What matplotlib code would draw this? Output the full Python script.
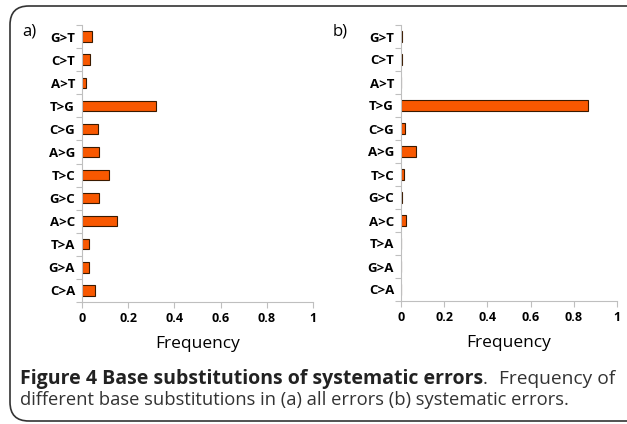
import matplotlib.pyplot as plt
import numpy as np
from matplotlib.patches import FancyBboxPatch

# substitution categories, bottom to top
subs = ["C>A", "G>A", "T>A", "A>C", "G>C", "T>C", "A>G", "C>G", "T>G", "A>T", "C>T", "G>T"]
freq_all = [0.058, 0.032, 0.029, 0.153, 0.074, 0.117, 0.072, 0.071, 0.320, 0.019, 0.036, 0.043]
freq_sys = [0.002, 0.002, 0.0, 0.023, 0.004, 0.014, 0.069, 0.017, 0.864, 0.002, 0.003, 0.003]
xticks = [0, 0.2, 0.4, 0.6, 0.8, 1]
xticklabels = ["0", "0.2", "0.4", "0.6", "0.8", "1"]

cap_bold = "Figure 4 Base substitutions of systematic errors"
cap_rest = "Frequency of"
cap_line2 = "different base substitutions in (a) all errors (b) systematic errors."

plt.rcParams['font.family'] = ['Open Sans', 'DejaVu Sans']
W, H = 627, 424
fig = plt.figure(figsize=(W / 100, H / 100), dpi=100)

bar_color = "#f85800"
axis_grey = "#bfbfbf"


def panel(rect, vals, tag, tag_x):
    ax = fig.add_axes(rect)
    y = np.arange(len(subs))
    ax.barh(y, vals, height=0.45, color=bar_color, edgecolor="#3a1a00", linewidth=0.8)
    ax.set_xlim(0, 1)
    ax.set_ylim(-0.5, len(subs) - 0.5)
    ax.set_xticks(xticks)
    ax.set_xticklabels(xticklabels, fontsize=9, fontweight="bold")
    ax.set_yticks(y)
    ax.set_yticklabels(subs, fontsize=9.5, fontweight="bold")
    ax.set_yticks(np.arange(-0.5, len(subs), 1), minor=True)
    ax.tick_params(axis="y", which="major", length=0, pad=5)
    ax.tick_params(axis="y", which="minor", length=4, color=axis_grey, width=0.8)
    ax.tick_params(axis="x", length=4, color=axis_grey, width=0.8, pad=3)
    for s in ["top", "right"]:
        ax.spines[s].set_visible(False)
    for s in ["left", "bottom"]:
        ax.spines[s].set_color(axis_grey)
        ax.spines[s].set_linewidth(0.8)
    ax.set_xlabel("Frequency", fontsize=12.5, labelpad=8)
    fig.text(tag_x / W, 1 - 32 / H, tag, fontsize=12, ha="left", va="center")
    return ax


panel([82 / W, 1 - 302 / H, 231 / W, 277 / H], freq_all, "a)", 22)
panel([401 / W, 1 - 301 / H, 216 / W, 276 / H], freq_sys, "b)", 333)

# rounded frame around figure
frame = FancyBboxPatch((10 / W, 3 / H), 700 / W, 415 / H,
                       boxstyle="round,pad=0,rounding_size=0.03",
                       transform=fig.transFigure, fill=False,
                       edgecolor="#333333", linewidth=1.2, mutation_aspect=W / H)
fig.patches.append(frame)

r = fig.canvas.get_renderer()


def fit_text(x, y, s, width_px, **kw):
    # size the text so it spans the wanted pixel width
    t = fig.text(x / W, 1 - y / H, s, fontsize=10, va="baseline", **kw)
    w = t.get_window_extent(r).width
    t.set_fontsize(10 * width_px / w)
    return t


t1 = fit_text(20, 384, cap_bold, 465, ha="left", fontweight="bold", color="#222222")
bb = t1.get_window_extent(r)
fig.text(bb.x1 / W, 1 - 384 / H, ".", fontsize=13, va="baseline", ha="left", color="#333333")
t2 = fit_text(499, 384, cap_rest, 116, ha="left", color="#333333")
fit_text(20, 405, cap_line2, 548, ha="left", color="#333333")

fig.savefig("out.png", dpi=100)
